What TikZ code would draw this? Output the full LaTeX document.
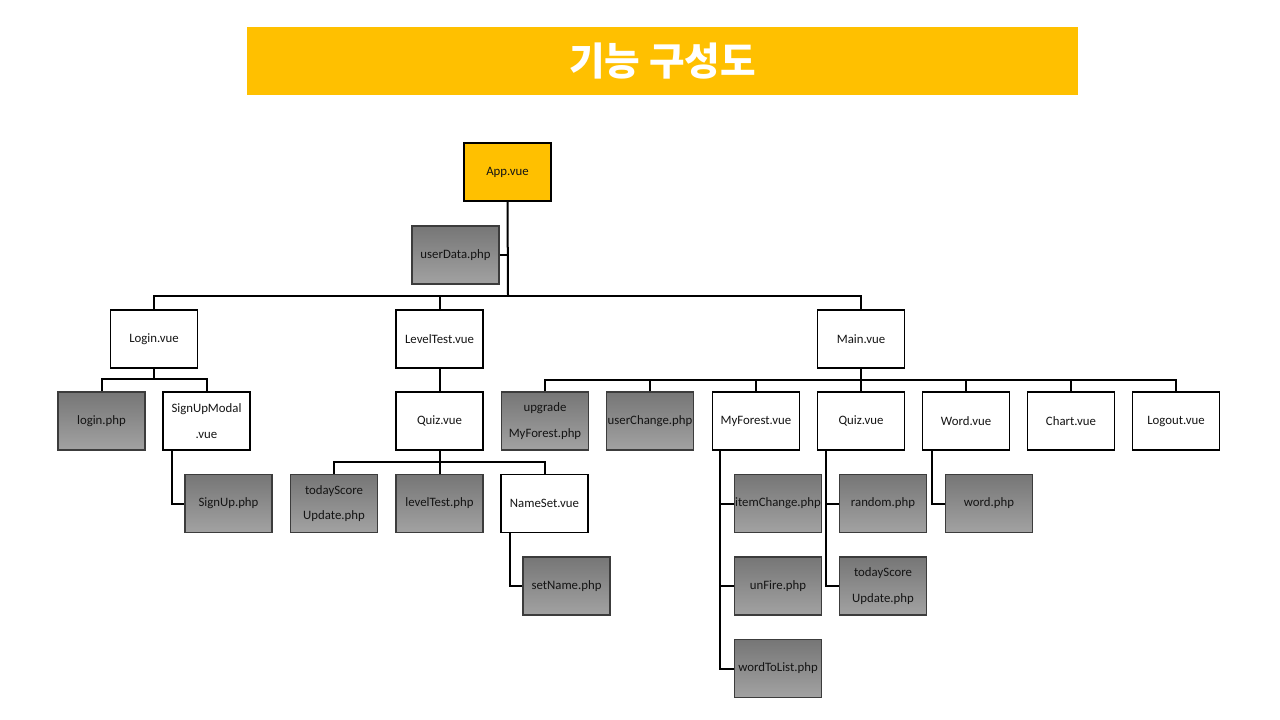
\documentclass[tikz,border=0pt]{standalone}
\usepackage{fontspec}
\setmainfont{Carlito}
\newfontfamily\krfont{Noto Sans CJK KR}
\definecolor{gold}{RGB}{255,192,0}
\definecolor{gtop}{RGB}{118,118,118}
\definecolor{gbot}{RGB}{162,162,162}
\definecolor{gborder}{RGB}{60,60,60}
\definecolor{txt}{RGB}{20,20,20}
\begin{document}
\begin{tikzpicture}[x=0.75pt,y=-0.75pt,
  base/.style={minimum width=65.25pt,minimum height=43.5pt,inner sep=0pt,align=center,
    font=\fontsize{9.6}{19}\selectfont,text=txt},
  vuebox/.style={base,draw=black,line width=1pt,fill=white},
  appbox/.style={base,draw=black,line width=1pt,fill=gold},
  phpbox/.style={base,draw=gborder,line width=0.8pt,top color=gtop,bottom color=gbot},
  conn/.style={line width=1.5pt,black}]
\useasboundingbox (0,0) rectangle (1280,720);
\fill[white] (0,0) rectangle (1280,720);
% title
\node[fill=gold,minimum width=623.25pt,minimum height=51pt,inner sep=0pt,text=white,
  font=\krfont\bfseries\fontsize{29}{32}\selectfont] (title) at (662.5,61) {기능 구성도};
% top
\node[appbox] (app) at (507.5,172) {App.vue};
\node[phpbox] (userdata) at (455.5,255) {userData.php};
\node[vuebox] (login) at (154,339) {Login.vue};
\node[vuebox] (leveltest) at (439.5,339) {LevelTest.vue};
\node[vuebox] (main) at (861,339) {Main.vue};
% login branch
\node[phpbox] (loginphp) at (101.5,421) {login.php};
\node[vuebox] (signupmodal) at (206.5,421) {SignUpModal\\.vue};
\node[phpbox] (signup) at (228.5,503.5) {SignUp.php};
% leveltest branch
\node[vuebox] (quiza) at (439.5,421) {Quiz.vue};
\node[phpbox] (todaya) at (334,503.5) {todayScore\\Update.php};
\node[phpbox] (levelphp) at (439.5,503.5) {levelTest.php};
\node[vuebox] (nameset) at (544.5,503.5) {NameSet.vue};
\node[phpbox] (setname) at (566.5,586) {setName.php};
% main branch
\node[phpbox] (upgrade) at (545,421) {upgrade\\MyForest.php};
\node[phpbox] (userchange) at (650,421) {userChange.php};
\node[vuebox] (myforest) at (756,421) {MyForest.vue};
\node[vuebox] (quizb) at (861,421) {Quiz.vue};
\node[vuebox] (word) at (966,421) {Word.vue};
\node[vuebox] (chart) at (1071,421) {Chart.vue};
\node[vuebox] (logout) at (1176,421) {Logout.vue};
\node[phpbox] (itemchange) at (778,503.5) {itemChange.php};
\node[phpbox] (unfire) at (778,586) {unFire.php};
\node[phpbox] (wordtolist) at (778,668.5) {wordToList.php};
\node[phpbox] (random) at (883,503.5) {random.php};
\node[phpbox] (todayb) at (883,586) {todayScore\\Update.php};
\node[phpbox] (wordphp) at (989,503.5) {word.php};
% connectors
\coordinate (b1) at (508,296);
\draw[conn] (app.south) -- (b1);
\draw[conn] (userdata.east) -- (userdata.east -| app.south);
\draw[conn] (login.north) |- (b1) -| (main.north);
\draw[conn] (leveltest.north) -- (leveltest.north |- b1);
\coordinate (b2) at (154,379);
\draw[conn] (login.south) -- (b2);
\draw[conn] (loginphp.north) |- (b2) -| (signupmodal.north);
\draw[conn] ([xshift=7.5pt]signupmodal.south west) |- (signup.west);
\draw[conn] (leveltest.south) -- (quiza.north);
\coordinate (b3) at (439.5,462);
\draw[conn] (quiza.south) -- (b3);
\draw[conn] (todaya.north) |- (b3) -| (nameset.north);
\draw[conn] (levelphp.north) -- (levelphp.north |- b3);
\draw[conn] ([xshift=7.5pt]nameset.south west) |- (setname.west);
\coordinate (b4) at (861,380);
\draw[conn] (main.south) -- (b4);
\draw[conn] (upgrade.north) |- (b4) -| (logout.north);
\foreach \n in {userchange,myforest,quizb,word,chart}
  \draw[conn] (\n.north) -- (\n.north |- b4);
\coordinate (t1) at ([xshift=6pt]myforest.south west);
\draw[conn] (t1) |- (wordtolist.west);
\draw[conn] (itemchange.west) -- (itemchange.west -| t1);
\draw[conn] (unfire.west) -- (unfire.west -| t1);
\coordinate (t2) at ([xshift=6.75pt]quizb.south west);
\draw[conn] (t2) |- (todayb.west);
\draw[conn] (random.west) -- (random.west -| t2);
\draw[conn] ([xshift=7.5pt]word.south west) |- (wordphp.west);
\end{tikzpicture}
\end{document}
